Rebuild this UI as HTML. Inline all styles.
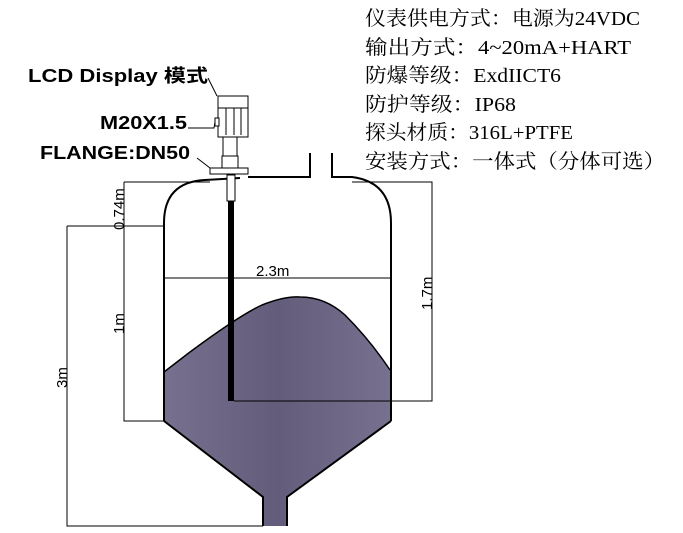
<!DOCTYPE html>
<html><head><meta charset="utf-8"><style>
html,body{margin:0;padding:0;background:#fff;}
svg{display:block;}
.r{font-family:"Liberation Serif","Noto Serif CJK SC",serif;font-size:20px;fill:#000;}
.b{font-family:"Liberation Sans","Noto Sans CJK SC",sans-serif;font-size:18px;font-weight:bold;fill:#000;}
.d{font-family:"Liberation Sans",sans-serif;font-size:15px;fill:#000;}
</style></head><body>
<svg width="683" height="533" viewBox="0 0 683 533" xmlns="http://www.w3.org/2000/svg">
<defs><linearGradient id="g" x1="0" x2="1"><stop offset="0" stop-color="#77718f"/><stop offset="0.5" stop-color="#635d7b"/><stop offset="1" stop-color="#77718f"/></linearGradient></defs>
<!-- fill -->
<path d="M164,372 L190,352 Q240,315 262,305 Q285,296 300,297 Q325,297 345,315 Q370,340 390,370 L390,421 L287,497 L287,526 L263,526 L263,497 L164,421 Z" fill="url(#g)"/>
<!-- tank outline -->
<g fill="none" stroke="#000" stroke-width="2">
<path d="M164,421 L164,223 Q164,182 205,180 L240,178"/>
<path d="M248,177 L310,177 L310,153 M332,153 L332,177 L352,177 Q391,182 391,223 L391,421"/>
<path d="M164,421 L263,497 L263,526 M391,421 L287,497 L287,526"/>
<path d="M164,372 L190,352 Q240,315 262,305 Q285,296 300,297 Q325,297 345,315 Q370,340 390,370" stroke-width="1.5"/>
</g>
<!-- dimension lines -->
<g fill="none" stroke="#000" stroke-width="1">
<path d="M67,226 L164,226 M67,226 L67,526 L263,526"/>
<path d="M124,182 L210,182 M124,182 L124,421 L164,421"/>
<path d="M164,278 L390,278"/>
<path d="M234,401 L432,401 L432,182 L352,182"/>
</g>
<!-- probe -->
<rect x="228" y="190" width="6" height="211" fill="#000"/>
<rect x="227" y="175" width="8" height="26" fill="#fff" stroke="#000"/>
<rect x="210" y="168" width="38" height="6" fill="#fff" stroke="#000"/>
<rect x="222" y="156" width="16" height="12" fill="#fff" stroke="#000"/>
<rect x="223" y="136" width="14" height="20" fill="#fff" stroke="#000"/>
<rect x="218" y="107" width="30" height="30" fill="#fff" stroke="#000"/>
<rect x="218" y="96" width="30" height="12" fill="#fff" stroke="#000"/>
<line x1="226" y1="108" x2="226" y2="135" stroke="#000"/>
<line x1="234" y1="108" x2="234" y2="135" stroke="#000"/>
<line x1="241" y1="108" x2="241" y2="135" stroke="#000"/>
<rect x="215" y="118" width="4" height="8" fill="#fff" stroke="#000"/>
<!-- leaders -->
<g stroke="#000" stroke-width="1" fill="none">
<path d="M208,78 L217,96"/>
<path d="M188,128 L214,128 L215,122"/>
<path d="M197,158 L210,168"/>
</g>
<!-- labels -->
<text class="b" x="28" y="82" textLength="180" lengthAdjust="spacingAndGlyphs">LCD Display 模式</text>
<text class="b" x="100" y="129" textLength="87" lengthAdjust="spacingAndGlyphs">M20X1.5</text>
<text class="b" x="40" y="159" textLength="150" lengthAdjust="spacingAndGlyphs">FLANGE:DN50</text>
<text class="d" transform="translate(124,230) rotate(-90)">0.74m</text>
<text class="d" transform="translate(124,334) rotate(-90)">1m</text>
<text class="d" transform="translate(67,388) rotate(-90)">3m</text>
<text class="d" transform="translate(432,310) rotate(-90)">1.7m</text>
<text class="d" x="256" y="276">2.3m</text>
<!-- spec text -->
<text class="r" x="365" y="25" textLength="275" lengthAdjust="spacingAndGlyphs">仪表供电方式：电源为24VDC</text>
<text class="r" x="365" y="54" textLength="266" lengthAdjust="spacingAndGlyphs">输出方式：4~20mA+HART</text>
<text class="r" x="365" y="82" textLength="196" lengthAdjust="spacingAndGlyphs">防爆等级：ExdIICT6</text>
<text class="r" x="365" y="111" textLength="151" lengthAdjust="spacingAndGlyphs">防护等级：IP68</text>
<text class="r" x="365" y="139" textLength="208" lengthAdjust="spacingAndGlyphs">探头材质：316L+PTFE</text>
<text class="r" x="365" y="168" textLength="300" lengthAdjust="spacingAndGlyphs">安装方式：一体式（分体可选）</text>
</svg>
</body></html>
